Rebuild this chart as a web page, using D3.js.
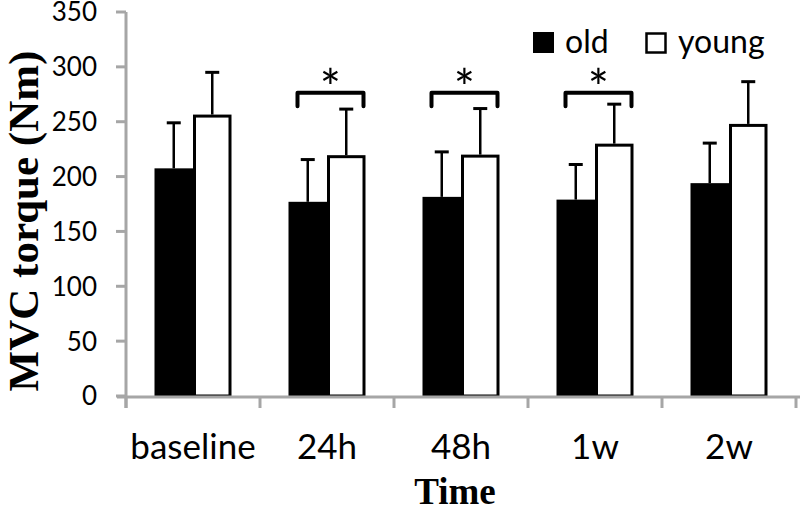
<!DOCTYPE html>
<html><head><meta charset="utf-8">
<script src="https://cdn.jsdelivr.net/npm/d3@7"></script>
<style>body{margin:0;background:#fff}svg{display:block}</style>
</head><body>
<svg id="chart" width="800" height="512"></svg>
<script>
const categories = ["baseline", "24h", "48h", "1w", "2w"];
const oldMeans = [207.5, 177, 181.5, 179, 194];
const oldSD = [41.5, 38.5, 41, 32, 36.5];
const youngMeans = [256.5, 219.5, 220, 230, 248];
const youngSD = [38.5, 42, 42, 36, 38.5];
const yTicks = [0, 50, 100, 150, 200, 250, 300, 350];
const significant = ["24h", "48h", "1w"];
const seriesNames = ["old", "young"];

const svg = d3.select("#chart");
const x = d3.scaleBand().domain(categories).range([126, 796]).padding(0);
const y = d3.scaleLinear().domain([0, 350]).range([396, 12]);
const barW = 38.5;
const font = "Lato, 'Open Sans', sans-serif";
const serif = "'Liberation Serif', 'Times New Roman', serif";

// bars
const g = svg.append("g");
categories.forEach((c, i) => {
  const cx = x(c) + x.bandwidth() / 2;
  g.append("rect").attr("x", cx - barW).attr("width", barW)
    .attr("y", y(oldMeans[i])).attr("height", y(0) - y(oldMeans[i]))
    .attr("fill", "#000");
  g.append("rect").attr("x", cx + 1.5).attr("width", barW - 3)
    .attr("y", y(youngMeans[i]) + 1.5).attr("height", y(0) - y(youngMeans[i]) - 1.5)
    .attr("fill", "#fff").attr("stroke", "#000").attr("stroke-width", 3);
  const eb = (xc, m, sd) => {
    g.append("line").attr("x1", xc).attr("x2", xc).attr("y1", y(m)).attr("y2", y(m + sd))
      .attr("stroke", "#000").attr("stroke-width", 2.5);
    g.append("line").attr("x1", xc - 7).attr("x2", xc + 7).attr("y1", y(m + sd)).attr("y2", y(m + sd))
      .attr("stroke", "#000").attr("stroke-width", 3);
  };
  eb(cx - barW / 2, oldMeans[i], oldSD[i]);
  eb(cx + barW / 2, youngMeans[i], youngSD[i]);
});

// significance brackets
significant.forEach(c => {
  const cx = x(c) + x.bandwidth() / 2 + 3.5;
  const x0 = cx - 33, x1 = cx + 33;
  const yt = y(276.5), yb = y(264);
  svg.append("path")
    .attr("d", `M${x0},${yb} L${x0},${yt} L${x1},${yt} L${x1},${yb}`)
    .attr("fill", "none").attr("stroke", "#000").attr("stroke-width", 4)
    .attr("stroke-linejoin", "round").attr("stroke-linecap", "round");
  svg.append("text").attr("x", cx).attr("y", yt + 13)
    .attr("text-anchor", "middle").attr("font-family", font)
    .attr("font-size", 50).attr("fill", "#000").text("*");
});

// axes
const axisColor = "#a6a6a6";
svg.append("line").attr("x1", 117).attr("x2", 800).attr("y1", 397).attr("y2", 397)
  .attr("stroke", axisColor).attr("stroke-width", 3);
svg.append("line").attr("x1", 126).attr("x2", 126).attr("y1", y(350)).attr("y2", 408)
  .attr("stroke", axisColor).attr("stroke-width", 3);
yTicks.forEach(t => {
  svg.append("line").attr("x1", 116).attr("x2", 126).attr("y1", y(t)).attr("y2", y(t))
    .attr("stroke", axisColor).attr("stroke-width", 3);
  svg.append("text").attr("x", 97).attr("y", y(t)).attr("dy", "0.36em")
    .attr("text-anchor", "end").attr("font-family", font).attr("font-size", 26)
    .attr("fill", "#000").text(t);
});
const bounds = categories.map(c => x(c)).concat([x.range()[1]]);
bounds.forEach(b => {
  svg.append("line").attr("x1", b).attr("x2", b).attr("y1", 397).attr("y2", 408)
    .attr("stroke", axisColor).attr("stroke-width", 3);
});
categories.forEach(c => {
  svg.append("text").attr("x", x(c) + x.bandwidth() / 2).attr("y", 459)
    .attr("text-anchor", "middle").attr("font-family", font).attr("font-size", 35)
    .attr("fill", "#000").text(c);
});

// axis titles
svg.append("text").attr("transform", "translate(38,221) rotate(-90)")
  .attr("text-anchor", "middle").attr("font-family", serif)
  .attr("font-weight", "bold").attr("font-size", 43).attr("fill", "#000")
  .text("MVC torque (Nm)");
svg.append("text").attr("x", 455).attr("y", 504)
  .attr("text-anchor", "middle").attr("font-family", serif)
  .attr("font-weight", "bold").attr("font-size", 37).attr("fill", "#000").text("Time");

// legend
const leg = svg.append("g");
leg.append("rect").attr("x", 533).attr("y", 32).attr("width", 21).attr("height", 21).attr("fill", "#000");
leg.append("text").attr("x", 565).attr("y", 53).attr("font-family", font).attr("font-size", 32)
  .attr("fill", "#000").text(seriesNames[0]);
leg.append("rect").attr("x", 646.5).attr("y", 33.5).attr("width", 19).attr("height", 19)
  .attr("fill", "#fff").attr("stroke", "#000").attr("stroke-width", 2.5);
leg.append("text").attr("x", 678).attr("y", 53).attr("font-family", font).attr("font-size", 32)
  .attr("fill", "#000").text(seriesNames[1]);
</script>
</body></html>
